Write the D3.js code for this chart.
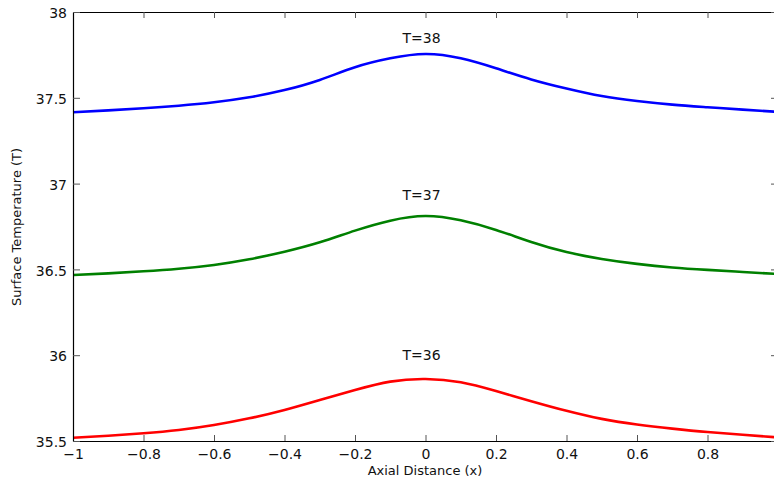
<!DOCTYPE html>
<html>
<head>
<meta charset="utf-8">
<script src="https://cdn.jsdelivr.net/npm/d3@7"></script>
<style>
  body { margin: 0; background: #fff; }
  svg { display: block; font-family: "DejaVu Sans", sans-serif; }
</style>
</head>
<body>
<div id="chart"></div>
<script>
var xs = [-1, -0.9, -0.8, -0.7, -0.6, -0.5, -0.4, -0.3, -0.2, -0.1, 0,
          0.1, 0.2, 0.3, 0.4, 0.5, 0.6, 0.7, 0.8, 0.9, 1];

var t38 = [37.416, 37.427, 37.439, 37.454, 37.474, 37.503, 37.545, 37.604, 37.678, 37.730, 37.755,
           37.730, 37.672, 37.607, 37.554, 37.510, 37.481, 37.460, 37.445, 37.431, 37.418];
var t37 = [36.467, 36.477, 36.489, 36.504, 36.526, 36.559, 36.603, 36.658, 36.726, 36.784, 36.811,
           36.786, 36.730, 36.660, 36.601, 36.561, 36.532, 36.511, 36.497, 36.485, 36.473];
var t36 = [35.519, 35.531, 35.545, 35.564, 35.593, 35.632, 35.681, 35.739, 35.797, 35.846, 35.861,
           35.842, 35.791, 35.732, 35.676, 35.629, 35.596, 35.572, 35.552, 35.536, 35.521];

var seriesNames = ["T=38", "T=37", "T=36"];
var seriesColors = ["#0000ff", "#008000", "#ff0000"];
var seriesValues = [t38, t37, t36];
// text label value (temperature where each label sits)
var labelT = [37.82, 36.905, 35.97];

var xTicks = [-1, -0.8, -0.6, -0.4, -0.2, 0, 0.2, 0.4, 0.6, 0.8];
var xTickLabels = ["\u22121", "\u22120.8", "\u22120.6", "\u22120.4", "\u22120.2", "0", "0.2", "0.4", "0.6", "0.8"];
var yTicks = [35.5, 36, 36.5, 37, 37.5, 38];
var yTickLabels = ["35.5", "36", "36.5", "37", "37.5", "38"];

var width = 774, height = 483;
var margin = {left: 73, top: 12, right: -4, bottom: 42};
var plotW = width - margin.left - margin.right;   // right edge falls just off the page
var plotH = height - margin.top - margin.bottom;

var svg = d3.select("#chart").append("svg")
  .attr("width", width)
  .attr("height", height);

var g = svg.append("g").attr("transform", "translate(" + margin.left + "," + margin.top + ")");

var x = d3.scaleLinear().domain([-1, 1]).range([0, plotW]);
var y = d3.scaleLinear().domain([35.5, 38]).range([plotH, 0]);

// curves
var line = d3.line()
  .x(function(d, i) { return x(xs[i]); })
  .y(function(d) { return y(d); })
  .curve(d3.curveNatural);

seriesValues.forEach(function(vals, k) {
  g.append("path")
    .datum(vals)
    .attr("fill", "none")
    .attr("stroke", seriesColors[k])
    .attr("stroke-width", 2.6)
    .attr("d", line);

  g.append("text")
    .attr("x", x(0) - 4)
    .attr("y", y(labelT[k]))
    .attr("text-anchor", "middle")
    .attr("font-size", 14)
    .attr("fill", "#111")
    .text(seriesNames[k]);
});

// axes, MATLAB style box with inward ticks
function fmt(labels, ticks) {
  return function(d) { return labels[ticks.indexOf(d)]; };
}

var xBottom = g.append("g")
  .attr("transform", "translate(0," + plotH + ")")
  .call(d3.axisBottom(x).tickValues(xTicks).tickFormat(fmt(xTickLabels, xTicks))
    .tickSizeInner(-6).tickSizeOuter(0).tickPadding(8));
var xTop = g.append("g")
  .call(d3.axisTop(x).tickValues(xTicks).tickFormat("")
    .tickSizeInner(-6).tickSizeOuter(0));
var yLeft = g.append("g")
  .call(d3.axisLeft(y).tickValues(yTicks).tickFormat(fmt(yTickLabels, yTicks))
    .tickSizeInner(-7).tickSizeOuter(0).tickPadding(6));
var yRight = g.append("g")
  .attr("transform", "translate(" + plotW + ",0)")
  .call(d3.axisRight(y).tickValues(yTicks).tickFormat("")
    .tickSizeInner(-7).tickSizeOuter(0));

[xBottom, xTop, yLeft, yRight].forEach(function(a) {
  a.select(".domain").attr("stroke", "#000").attr("stroke-width", 1.2);
  a.selectAll(".tick line").attr("stroke", "#555").attr("stroke-width", 1);
  a.selectAll("text")
    .attr("font-size", 14)
    .attr("font-family", "DejaVu Sans, sans-serif")
    .attr("fill", "#111");
});
yLeft.selectAll("text").attr("dy", "0.4em");
xBottom.selectAll("text").attr("dy", "0.71em");

// axis titles
svg.append("text")
  .attr("x", 425)
  .attr("y", 475)
  .attr("text-anchor", "middle")
  .attr("font-size", 13)
  .attr("fill", "#111")
  .text("Axial Distance (x)");

svg.append("text")
  .attr("transform", "translate(21,227) rotate(-90)")
  .attr("text-anchor", "middle")
  .attr("font-size", 13)
  .attr("fill", "#111")
  .text("Surface Temperature (T)");
</script>
</body>
</html>
